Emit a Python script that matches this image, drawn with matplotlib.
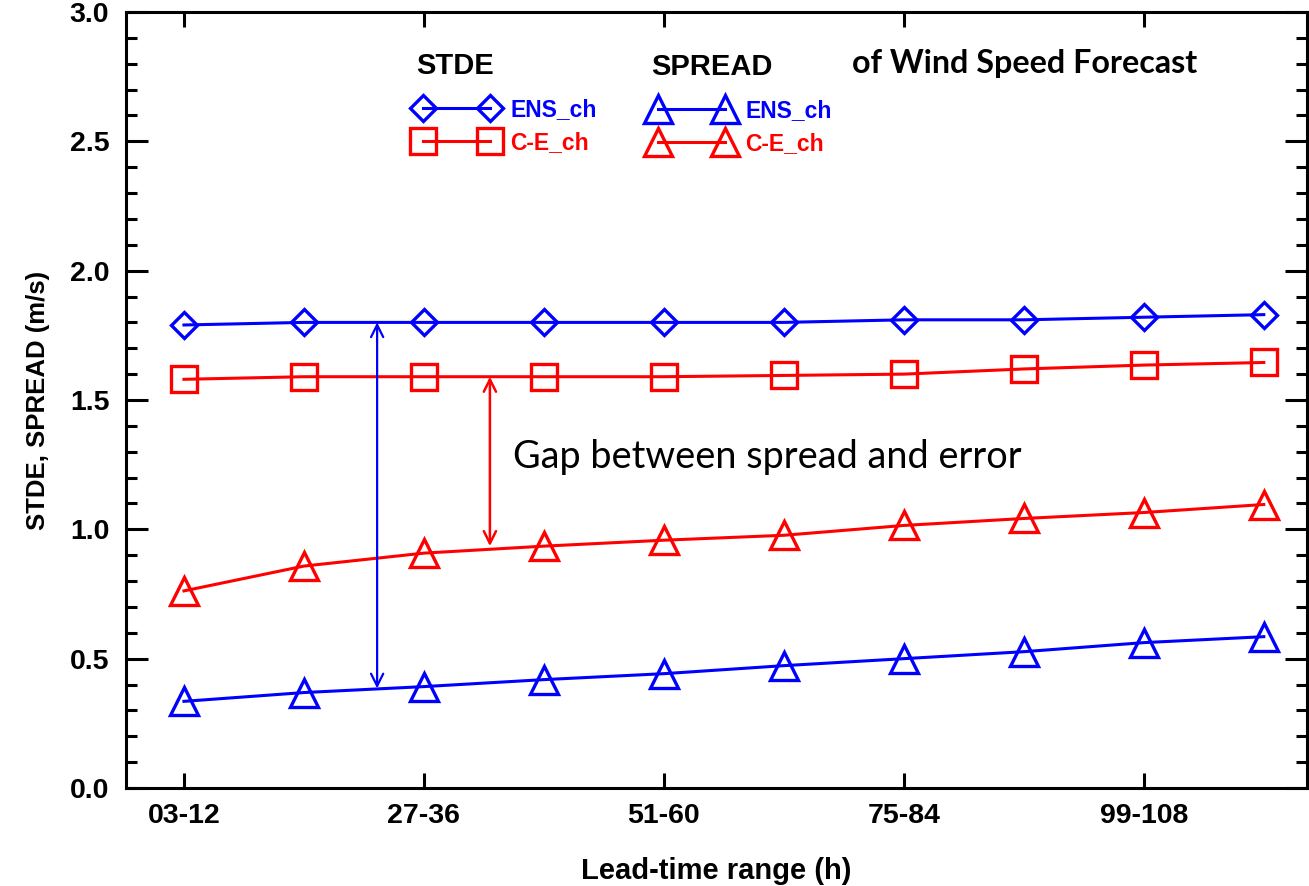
import matplotlib.pyplot as plt
from matplotlib.lines import Line2D
from matplotlib.ticker import MultipleLocator

# lead-time ranges (h)
leads = ['03-12', '15-24', '27-36', '39-48', '51-60',
         '63-72', '75-84', '87-96', '99-108', '111-120']

# STDE
stde_ens = [1.79, 1.80, 1.80, 1.80, 1.80, 1.80, 1.81, 1.81, 1.82, 1.83]
stde_ce = [1.58, 1.59, 1.59, 1.59, 1.59, 1.595, 1.60, 1.62, 1.635, 1.645]

# SPREAD
spread_ens = [0.335, 0.369, 0.392, 0.419, 0.442, 0.473, 0.500, 0.527, 0.562, 0.585]
spread_ce = [0.762, 0.858, 0.908, 0.935, 0.958, 0.977, 1.015, 1.042, 1.065, 1.096]

# gap arrows: (x position, top, bottom)
gap_ens = (1.61, 1.80, 0.385)
gap_ce = (2.55, 1.59, 0.935)

x = list(range(len(leads)))
bold = dict(family='Liberation Sans', weight='bold')

fig = plt.figure(figsize=(13.09, 8.86), dpi=100)
ax = fig.add_axes([126 / 1309, 1 - 788 / 886, 1181 / 1309, 776 / 886])

lw = 2.2
mew = 2.4
ax.plot(x, stde_ens, color='blue', lw=lw, marker='D', ms=13, mew=mew, mfc='none')
ax.plot(x, stde_ce, color='red', lw=lw, marker='s', ms=19, mew=mew, mfc='none')
ax.plot(x, spread_ce, color='red', lw=lw, marker='^', ms=20, mew=mew, mfc='none')
ax.plot(x, spread_ens, color='blue', lw=lw, marker='^', ms=20, mew=mew, mfc='none')

ax.annotate('', xy=(gap_ens[0], gap_ens[1]), xytext=(gap_ens[0], gap_ens[2]),
            arrowprops=dict(arrowstyle='<->', color='blue', lw=1.6,
                            mutation_scale=22, shrinkA=0, shrinkB=0))
ax.annotate('', xy=(gap_ce[0], gap_ce[1]), xytext=(gap_ce[0], gap_ce[2]),
            arrowprops=dict(arrowstyle='<->', color='red', lw=1.8,
                            mutation_scale=22, shrinkA=0, shrinkB=0))

ax.text(2.74, 1.28, 'Gap between spread and error', fontsize=27.3,
        family='Lato', va='center', ha='left')
ax.text(0.6148, 0.933, 'of Wind Speed Forecast', transform=ax.transAxes,
        fontsize=23.2, family='Lato', weight='bold', va='center', ha='left')

# legends
h1 = Line2D([], [], color='blue', lw=lw, marker='D', ms=13, mew=mew, mfc='none')
h2 = Line2D([], [], color='red', lw=lw, marker='s', ms=19, mew=mew, mfc='none')
h3 = Line2D([], [], color='blue', lw=lw, marker='^', ms=20, mew=mew, mfc='none')
h4 = Line2D([], [], color='red', lw=lw, marker='^', ms=20, mew=mew, mfc='none')

def make_legend(handles, title, xpos, ypos):
    leg = ax.legend(handles, ['ENS_ch', 'C-E_ch'], title=title, numpoints=2,
                    loc='upper left', bbox_to_anchor=(xpos, ypos),
                    frameon=False, borderpad=0, borderaxespad=0,
                    handlelength=3.5, handletextpad=0.6, labelspacing=0.45,
                    alignment='left', labelcolor=['blue', 'red'],
                    prop=dict(size=16.5, **bold),
                    title_fontproperties=dict(size=21, **bold))
    leg._legend_box.sep = 13
    return leg

leg1 = make_legend([h1, h2], 'STDE', 0.246, 0.949)
ax.add_artist(leg1)
make_legend([h3, h4], 'SPREAD', 0.445, 0.947)

ax.set_xlim(-0.483, 9.36)
ax.set_ylim(0, 3.0)
ax.set_xticks(x[::2])
ax.set_xticklabels(leads[::2])
ax.yaxis.set_major_locator(MultipleLocator(0.5))
ax.yaxis.set_minor_locator(MultipleLocator(0.1))
ax.yaxis.set_major_formatter(plt.FormatStrFormatter('%.1f'))

for s in ax.spines.values():
    s.set_linewidth(2.2)
ax.tick_params(axis='both', which='both', direction='in', top=True, right=True,
               width=2.2)
ax.tick_params(axis='y', which='major', length=16, pad=12)
ax.tick_params(axis='y', which='minor', length=8)
ax.tick_params(axis='x', which='major', length=11, pad=11)
for lab in ax.get_xticklabels() + ax.get_yticklabels():
    lab.set_fontsize(20.5)
    lab.set_fontfamily('Liberation Sans')
    lab.set_fontweight('bold')

ax.set_xlabel('Lead-time range (h)', fontsize=21, labelpad=20, **bold)
ax.set_ylabel('STDE, SPREAD (m/s)', fontsize=18.5, labelpad=14, **bold)

fig.savefig('out.png', dpi=100)
